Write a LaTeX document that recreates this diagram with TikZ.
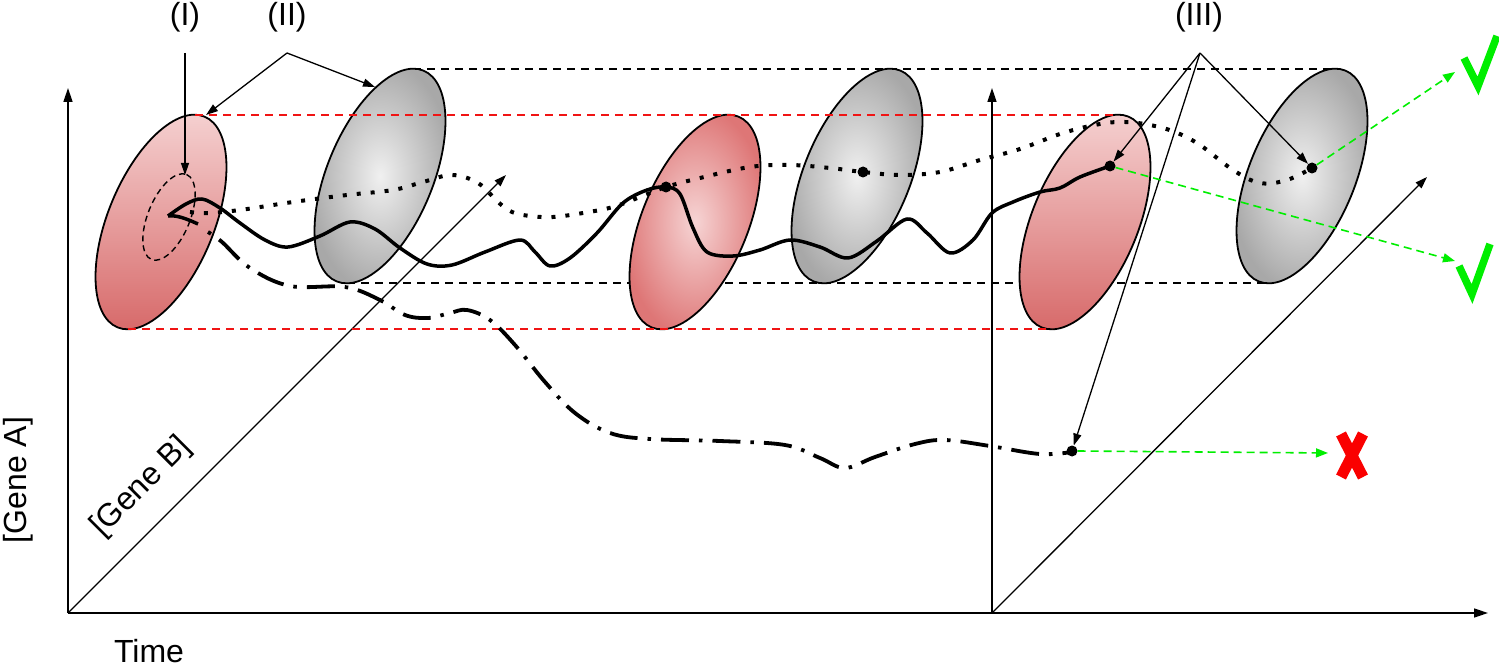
\documentclass[tikz,border=0pt]{standalone}
\usepackage{fontspec}
\setmainfont{Liberation Sans}
\usetikzlibrary{arrows.meta}
\definecolor{redlight}{RGB}{246,212,212}
\definecolor{reddark}{RGB}{214,102,102}
\definecolor{redmid}{RGB}{222,118,118}
\definecolor{greylight}{RGB}{240,240,240}
\definecolor{greydark}{RGB}{168,168,168}
\definecolor{okgreen}{RGB}{0,238,0}
\definecolor{dashred}{RGB}{240,20,20}
\definecolor{xred}{RGB}{250,0,0}
\begin{document}
\begin{tikzpicture}[x=1pt,y=-1pt,
  axis/.style={line width=1.5pt,-{Triangle[length=14pt,width=9pt]}},
  diag/.style={line width=1.3pt,-{Triangle[length=12pt,width=8pt]}},
  lbl/.style={font=\fontsize{32}{38}\selectfont, inner sep=0pt},
  pointer/.style={line width=1.3pt,-{Triangle[length=12pt,width=8pt]}},
  blackdash/.style={line width=1.5pt, dash pattern=on 8pt off 6pt},
  reddash/.style={draw=dashred, line width=1.5pt, dash pattern=on 8pt off 6pt},
  cell/.style={line width=1.8pt, draw=black},
  traj/.style={line width=3.5pt, line join=round},
  dottraj/.style={line width=4pt, dash pattern=on 4pt off 10pt},
  dashdottraj/.style={line width=3.8pt, dash pattern=on 3.5pt off 10pt on 28pt off 10pt},
  dotnode/.style={circle, fill=black, inner sep=0pt, minimum size=11pt},
  greenarrow/.style={draw=okgreen, line width=1.6pt, dash pattern=on 8pt off 5pt, -{Triangle[length=12pt,width=9pt,fill=okgreen]}},
  checkmark/.style={draw=okgreen, line width=7.5pt, line join=miter},
  xmark/.style={draw=xred, line width=11pt}
]
\useasboundingbox (0,0) rectangle (1499,668);

% axes
\coordinate (O1) at (68,613);
\coordinate (Y1) at (68,88);
\coordinate (X1) at (1488,613);
\coordinate (Z1) at (506,175);
\coordinate (O2) at (992,613);
\coordinate (Y2) at (992,88);
\coordinate (Z2) at (1427,177);
\draw[axis] (O1) -- (Y1);
\draw[axis] (O1) -- (X1);
\draw[axis] (O2) -- (Y2);
\draw[diag] (O1) -- (Z1);
\draw[diag] (O2) -- (Z2);

% black dashed bounds
\coordinate (bt1) at (413,69);
\coordinate (bt2) at (1338,69);
\coordinate (bb1) at (347,283);
\coordinate (bb2) at (1268,283);
\draw[blackdash] (bt1) -- (bt2);
\draw[blackdash] (bb1) -- (bb2);

% ellipses
\shadedraw[cell, top color=redlight, bottom color=reddark, rotate around={67.6:(161,222)}] (161,222) ellipse [x radius=114, y radius=53];
\shadedraw[cell, inner color=greylight, outer color=greydark, rotate around={67.6:(380,176)}] (380,176) ellipse [x radius=114, y radius=53];
\shadedraw[cell, inner color=redlight, outer color=redmid, rotate around={67.6:(695,222)}] (695,222) ellipse [x radius=114, y radius=53];
\shadedraw[cell, inner color=greylight, outer color=greydark, rotate around={67.6:(857,176)}] (857,176) ellipse [x radius=114, y radius=53];
\shadedraw[cell, top color=redlight, bottom color=reddark, rotate around={67.6:(1085,222)}] (1085,222) ellipse [x radius=114, y radius=53];
\shadedraw[cell, inner color=greylight, outer color=greydark, rotate around={67.6:(1302,176)}] (1302,176) ellipse [x radius=114, y radius=53];

% small dashed ellipse
\draw[line width=1.4pt, dash pattern=on 6pt off 4pt, rotate around={67.6:(169,217)}] (169,217) ellipse [x radius=46, y radius=21];

% red dashed bounds
\coordinate (rt1) at (195,115);
\coordinate (rt2) at (1118,115);
\coordinate (rb1) at (128,329);
\coordinate (rb2) at (1052,329);
\draw[reddash] (rt1) -- (rt2);
\draw[reddash] (rb1) -- (rb2);

% trajectories
\draw[dottraj] plot[smooth, tension=0.6] coordinates {(190,212) (208,213) (240,210) (293,202) (347,195) (393,190) (423,182) (452,175) (478,183) (498,202) (512,212) (530,216) (553,217) (583,213) (613,207) (640,197) (666,187) (700,178) (750,167) (790,165) (830,168) (863,172) (900,175) (940,172) (980,160) (1020,149) (1063,133) (1100,124) (1125,122) (1150,125) (1175,132) (1200,145) (1233,170) (1260,183) (1287,180) (1312,168)};

\draw[dashdottraj] plot[smooth, tension=0.6] coordinates {(208,232) (222,242) (250,268) (290,286) (345,287) (380,300) (405,315) (428,318) (450,313) (467,310) (490,320) (515,345) (545,382) (575,413) (610,433) (650,439) (720,441) (785,445) (820,458) (845,468) (875,457) (915,444) (945,440) (990,446) (1040,454) (1072,452)};

\draw[traj] (198,224) .. controls (185,218) and (176,215) .. (168,216);
\draw[traj] plot[smooth, tension=0.55] coordinates {(168,216) (186,204) (202,199) (220,208) (240,223) (265,240) (288,247) (320,236) (350,222) (375,229) (400,248) (427,264) (452,265) (485,252) (520,240) (535,252) (550,266) (570,258) (597,233) (623,203) (647,190) (666,187) (680,194) (693,228) (707,252) (733,256) (760,250) (790,240) (820,247) (848,258) (877,241) (907,219) (927,233) (950,253) (973,240) (992,213) (1013,202) (1040,192) (1060,188) (1080,177) (1110,166)};

% points
\node[dotnode] (d1) at (666,187) {};
\node[dotnode] (d2) at (863,172) {};
\node[dotnode] (d3) at (1110,166) {};
\node[dotnode] (d4) at (1312,168) {};
\node[dotnode] (d5) at (1072,451) {};

% labels
\node[lbl, anchor=base] (l1) at (185,26) {(I)};
\node[lbl, anchor=base] (l2) at (287,26) {(II)};
\node[lbl, anchor=base] (l3) at (1199,26) {(III)};
\node[lbl, anchor=base, rotate=90] (ga) at (26,480) {[Gene A]};
\node[lbl, rotate=45] (gb) at (141,487) {[Gene B]};
\node[lbl, anchor=base] (tm) at (149,662) {Time};

% label pointers
\coordinate (p1) at (185,53);
\coordinate (p1e) at (185,175);
\draw[pointer] (p1) -- (p1e);
\coordinate (p2) at (287,53);
\coordinate (p2a) at (206,115);
\coordinate (p2b) at (375,87);
\draw[pointer] (p2) -- (p2a);
\draw[pointer] (p2) -- (p2b);
\coordinate (p3) at (1200,53);
\draw[pointer] (p3) -- (d3);
\draw[pointer] (p3) -- (d4);
\draw[pointer] (p3) -- (d5);

% outcomes
\coordinate (g1) at (1455,72);
\coordinate (g2) at (1455,261);
\coordinate (g3) at (1328,453);
\draw[greenarrow] (d4) -- (g1);
\draw[greenarrow] (d3) -- (g2);
\draw[greenarrow] (d5.east) -- (g3);
\draw[checkmark] (1464,58) -- (1478,86) -- (1497,36);
\draw[checkmark] (1459,266) -- (1472,294) -- (1490,244);
\draw[xmark] (1341,434) -- (1363,477);
\draw[xmark] (1363,434) -- (1341,477);
\end{tikzpicture}
\end{document}
